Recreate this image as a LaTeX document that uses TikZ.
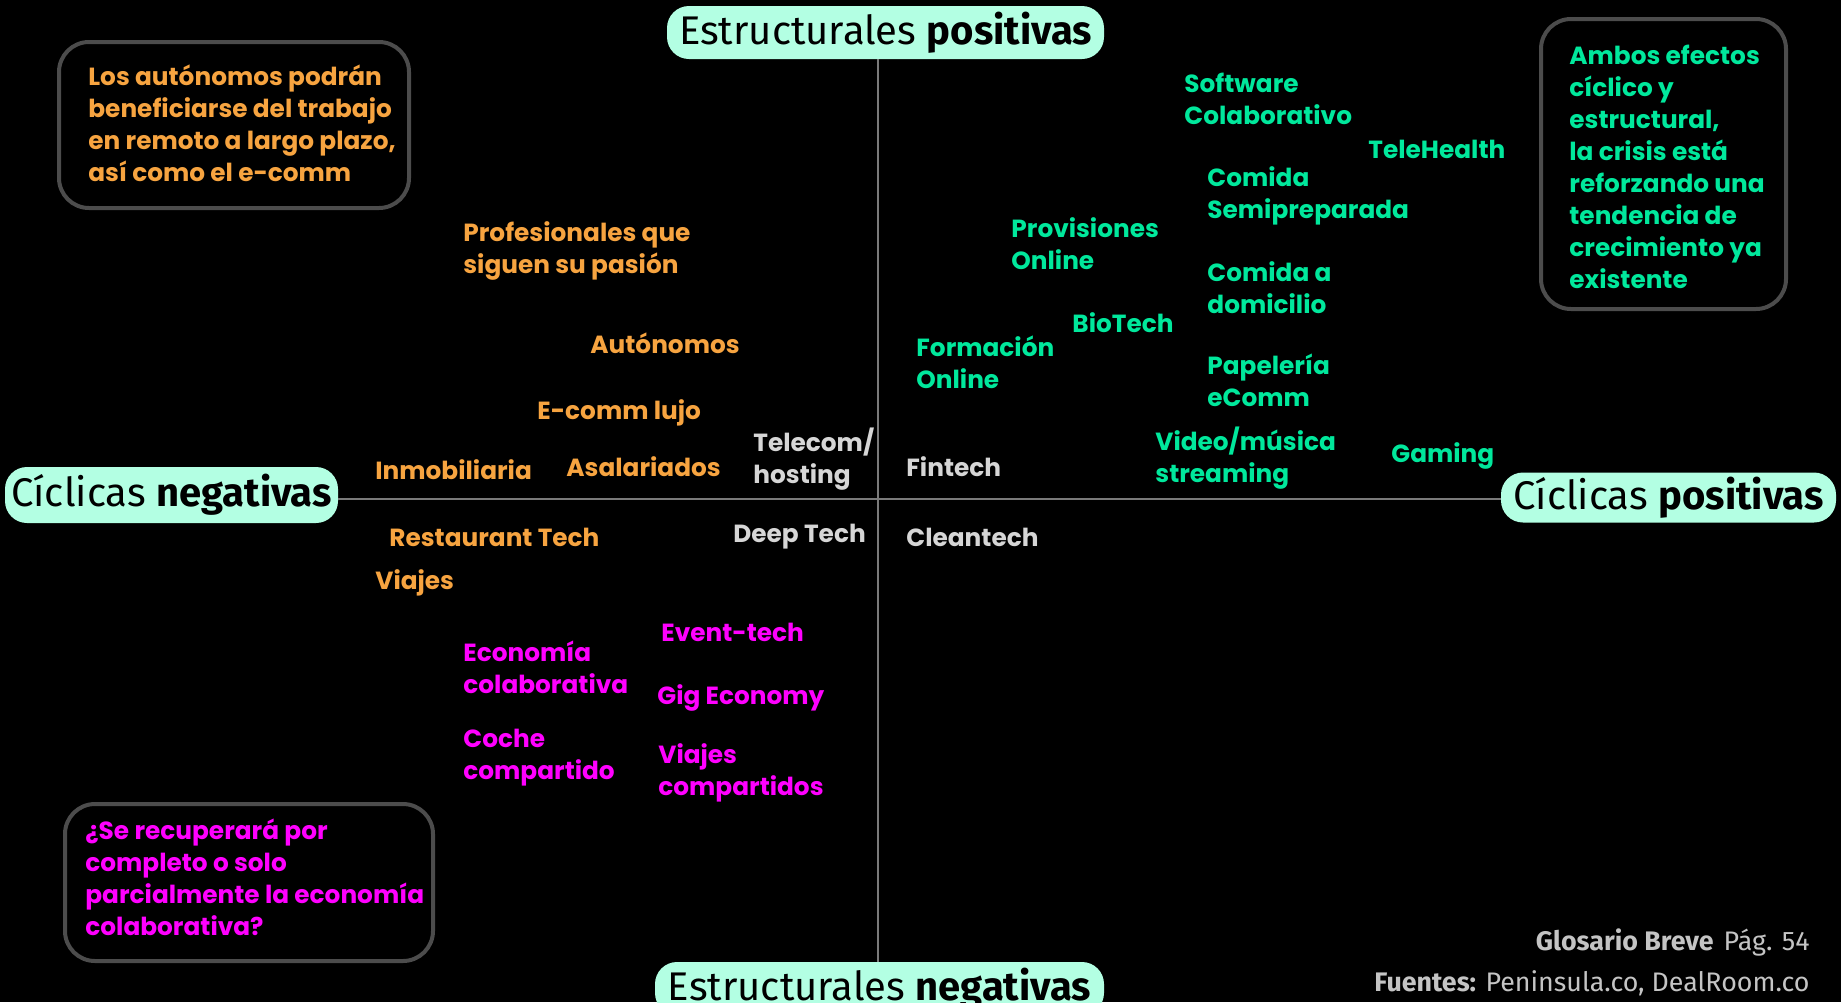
\documentclass[tikz,border=0pt]{standalone}
\usepackage{fontspec}
\setmainfont{Poppins}
\newfontfamily\pillfont{Fira Sans}
\usetikzlibrary{positioning}
\definecolor{mint}{HTML}{B3FFE3}
\definecolor{naranja}{HTML}{F7A440}
\definecolor{verde}{HTML}{00E89C}
\definecolor{magenta2}{HTML}{FF00FF}
\definecolor{gristxt}{HTML}{D6D6D6}
\definecolor{grisbox}{HTML}{4C4C4C}
\definecolor{grisaxis}{HTML}{7A7A7A}
\definecolor{grispie}{HTML}{C4C4C4}

\begin{document}
\begin{tikzpicture}[x=0.5pt, y=-0.5pt,
	lbl/.style={anchor=west, inner sep=0pt, align=left, font=\fontsize{12.4}{16}\selectfont\bfseries},
	pill/.style={fill=mint, rounded corners=11pt, inner sep=0pt, text=black, font=\pillfont\fontsize{20}{22}\selectfont},
	notebox/.style={draw=grisbox, line width=2pt, rounded corners=15pt, inner sep=0pt},
	pie/.style={anchor=east, inner sep=0pt, text=grispie, font=\pillfont\fontsize{13.4}{16}\selectfont}]
			\fill[black] (0, 0) rectangle (1841, 1002);
			\useasboundingbox (0, 0) rectangle (1841, 1002);
			\coordinate (O) at (878, 499);
			% ejes
			\node[pill, minimum width=218.5pt, minimum height=26.5pt] (EPOS)at(885.5, 32.5) {Estructurales \textbf{positivas}};
			\node[pill, minimum width=224.5pt, minimum height=26.5pt] (ENEG)at(879.5, 988.5) {Estructurales \textbf{negativas}};
			\node[pill, minimum width=166.5pt, minimum height=28pt] (CNEG)at(171.5, 495) {Cíclicas \textbf{negativas}};
			\node[pill, minimum width=167.5pt, minimum height=25pt] (CPOS)at(1668.5, 497.5) {Cíclicas \textbf{positivas}};
			\draw[grisaxis, line width=1pt] (O |- EPOS.south) -- (O |- ENEG.north);
			\draw[grisaxis, line width=1pt] (CNEG.east |- O) -- (CPOS.west |- O);
			% notas
			\node[notebox, minimum width=175pt, minimum height=83pt] (BOXA)at(234, 125) {};
			\node[lbl, text=naranja] (NOTA)at(88, 123) {Los autónomos podrán\\beneficiarse del trabajo\\en remoto a largo plazo,\\así como el e-comm};
			\node[notebox, minimum width=122.5pt, minimum height=145pt] (BOXB)at(1663.5, 164) {};
			\node[lbl, text=verde] (NOTB)at(1569, 167) {Ambos efectos\\cíclico y\\estructural,\\la crisis está\\reforzando una\\tendencia de\\crecimiento ya\\existente};
			\node[notebox, minimum width=184pt, minimum height=78.5pt] (BOXC)at(249, 882.5) {};
			\node[lbl, text=magenta2] (NOTC)at(85, 877.5) {¿Se recuperará por\\completo o solo\\parcialmente la economía\\colaborativa?};
			% naranja
			\node[lbl, text=naranja] (PROF)at(463, 251) {Profesionales que\\siguen su pasión};
			\node[lbl, text=naranja] (AUTO)at(590, 343) {Autónomos};
			\node[lbl, text=naranja] (LUJO)at(537, 413) {E-comm lujo};
			\node[lbl, text=naranja] (INMO)at(375, 470) {Inmobiliaria};
			\node[lbl, text=naranja] (ASAL)at(566, 467) {Asalariados};
			\node[lbl, text=naranja] (REST)at(389, 537) {Restaurant Tech};
			\node[lbl, text=naranja] (VIAJ)at(375, 583) {Viajes};
			% gris
			\node[lbl, text=gristxt] (TELE)at(753, 459) {Telecom/\\hosting};
			\node[lbl, text=gristxt] (FINT)at(906, 467) {Fintech};
			\node[lbl, text=gristxt] (DEEP)at(733, 537) {Deep Tech};
			\node[lbl, text=gristxt] (CLEA)at(906, 537) {Cleantech};
			% magenta
			\node[lbl, text=magenta2] (EVEN)at(661, 632) {Event-tech};
			\node[lbl, text=magenta2] (ECON)at(463, 667) {Economía\\colaborativa};
			\node[lbl, text=magenta2] (GIGE)at(657, 698) {Gig Economy};
			\node[lbl, text=magenta2] (COCH)at(463, 758) {Coche\\compartido};
			\node[lbl, text=magenta2] (VCOM)at(658, 772.5) {Viajes\\compartidos};
			% verde
			\node[lbl, text=verde] (SOFT)at(1184, 99) {Software\\Colaborativo};
			\node[lbl, text=verde] (HEAL)at(1368, 149) {TeleHealth};
			\node[lbl, text=verde] (SEMI)at(1207, 196) {Comida\\Semipreparada};
			\node[lbl, text=verde] (PROV)at(1011, 244) {Provisiones\\Online};
			\node[lbl, text=verde] (DOMI)at(1207, 288) {Comida a\\domicilio};
			\node[lbl, text=verde] (BIOT)at(1072, 323) {BioTech};
			\node[lbl, text=verde] (FORM)at(916, 362.5) {Formación\\Online};
			\node[lbl, text=verde] (PAPE)at(1207, 380.5) {Papelería\\eComm};
			\node[lbl, text=verde] (VIDE)at(1155, 458.5) {Video/música\\streaming};
			\node[lbl, text=verde] (GAME)at(1391, 456) {Gaming};
			% pie
			\node[pie] (GLOS)at(1810, 942) {\textbf{Glosario Breve}\hspace{5pt}Pág. 54};
			\node[pie] (FUEN)at(1810, 983) {\textbf{Fuentes:} Peninsula.co, DealRoom.co};
		\end{tikzpicture}
\end{document}
